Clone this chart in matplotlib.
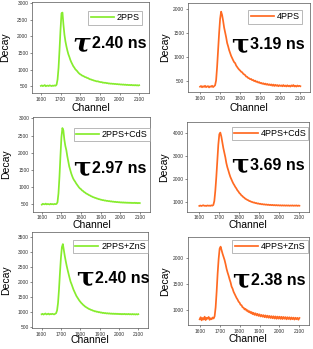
import numpy as np
import matplotlib
matplotlib.use("Agg")
import matplotlib.pyplot as plt

plt.rcParams['font.family'] = ['Liberation Sans', 'DejaVu Sans']

START, STEP = 1600, 5

labels = ["2PPS", "4PPS", "2PPS+CdS", "4PPS+CdS", "2PPS+ZnS", "4PPS+ZnS"]
lifetimes = ["2.40 ns", "3.19 ns", "2.97 ns", "3.69 ns", "2.40 ns", "2.38 ns"]

decay_2pps = [505,520,498,512,530,495,508,515,500,522,510,498,515,505,520,510,
    540,700,1050,1600,2200,2700,2720,2350,2050,1850,1700,1570,1460,1380,1290,1220,
    1160,1100,1060,1010,980,950,910,880,
    855,840,815,805,790,770,765,745,740,720,705,700,685,680,665,660,650,640,645,630,
    625,615,620,600,605,595,600,585,590,575,580,570,575,565,570,560,565,555,560,550,
    555,545,550,540,548,535,545,530,540,528,535,525,538,522,530,520,532,518,528,515,525]

decay_4pps = [390,405,378,400,385,410,380,395,402,375,398,388,410,382,400,
    420,520,800,1150,1500,1800,1950,1880,1760,1620,1520,1420,1300,1230,1150,1090,
    1030,985,940,900,880,830,800,770,745,
    725,700,690,660,645,630,600,595,570,565,545,550,525,530,505,515,490,498,475,485,
    462,470,450,462,440,455,432,448,425,440,420,438,410,435,405,430,408,425,400,422,
    405,418,398,425,400,415,395,420,398,412,392,418,400,425,395,410,392,415,398,410,400]

decay_2pps_cds = [490,515,505,500,520,498,510,505,495,515,502,508,498,512,505,510,
    560,820,1300,1900,2450,2720,2650,2380,2200,2080,1900,1750,1600,1500,1400,1320,
    1250,1200,1160,1110,1070,1030,990,960,
    940,905,890,860,845,820,805,790,770,760,740,730,712,705,690,685,670,665,650,648,
    635,632,620,622,608,612,598,602,590,595,582,588,575,580,568,575,562,570,558,565,
    552,560,548,558,545,555,542,552,540,550,538,548,535,545,535,548,532,545,530,542,535]

decay_4pps_cds = [840,860,835,855,870,845,850,838,862,848,855,842,868,850,
    880,1050,1500,2100,2800,3500,3950,4020,3850,3600,3350,3150,2950,2700,2520,2380,
    2230,2100,2000,1900,1810,1740,1660,1600,1520,1470,
    1400,1360,1300,1270,1220,1195,1150,1130,1100,1085,1050,1045,1015,1010,985,990,960,968,940,950,
    925,935,910,922,900,912,890,905,882,898,875,890,870,888,865,882,860,880,858,875,
    855,872,850,870,852,868,848,866,850,865,845,862,848,866,845,860,848,865,842,858,850]

decay_2pps_zns = [925,940,915,935,950,920,930,945,918,938,925,942,930,920,940,
    960,1050,1300,1750,2300,2800,3150,3250,3050,2850,2680,2520,2380,2250,2120,2000,
    1920,1830,1740,1670,1600,1530,1480,1430,1380,
    1340,1300,1270,1235,1210,1180,1160,1140,1120,1100,1090,1070,1065,1045,1040,1020,1025,1005,1010,990,
    998,978,985,965,975,958,968,950,962,945,958,940,952,935,950,932,948,930,945,928,
    942,925,940,922,938,925,940,920,935,922,938,920,932,918,935,920,930,915,932,918,928]

decay_4pps_zns = [820,860,800,845,815,870,805,850,830,865,810,840,820,855,835,
    880,1050,1350,1700,1980,2180,2220,2150,2080,2020,1960,1880,1790,1720,1660,1590,
    1530,1450,1410,1350,1310,1270,1230,1200,1160,
    1140,1100,1090,1050,1045,1010,1020,985,995,960,975,940,960,920,945,905,935,895,925,885,
    915,875,905,870,900,860,895,855,890,850,885,845,880,840,878,835,875,830,872,832,
    870,828,868,825,865,830,862,820,860,825,858,818,855,822,852,815,850,820,848,812,845]

series = [decay_2pps, decay_4pps, decay_2pps_cds, decay_4pps_cds, decay_2pps_zns, decay_4pps_zns]
yticks_list = [[500,1000,1500,2000,2500,3000], [500,1000,1500,2000],
               [500,1000,1500,2000,2500,3000], [1000,2000,3000,4000],
               [500,1000,1500,2000,2500,3000,3500], [1000,1500,2000]]
xticks = [1600,1700,1800,1900,2000,2100]

GREEN = '#86EC2E'
ORANGE = '#FF6A22'
colors = [GREEN, ORANGE, GREEN, ORANGE, GREEN, ORANGE]

W, H = 313, 349
# pixel boxes: left, right, top, bottom
boxes = [(32, 149, 2, 93), (188, 310, 3, 92),
         (33, 150, 116.7, 211.7), (187.3, 309, 122, 211.7),
         (32.3, 148, 232, 328), (187.7, 309, 237.3, 325)]
xlims = [(1555, 2150), (1540, 2148), (1555, 2152), (1540, 2148), (1552, 2150), (1540, 2148)]
ylims = [(290, 3040), (280, 2130), (285, 3050), (590, 4480), (470, 3650), (710, 2400)]
leg_anchor = [(0.94, 0.90), (0.934, 0.92), (1.0, 0.884), (0.995, 0.948), (1.0, 0.917), (0.99, 0.97)]
text_y = [0.54, 0.53, 0.457, 0.52, 0.518, 0.513]
txt_x = [0.51, 0.51, 0.506, 0.515, 0.54, 0.525]
ylab_x = [-0.23, -0.19, -0.23, -0.19, -0.23, -0.19]
xlab_y = [-0.17, -0.18, -0.135, -0.15, -0.13, -0.165]

fig = plt.figure(figsize=(W/100, H/100), dpi=100)
for i in range(6):
    l, r, t, b = boxes[i]
    ax = fig.add_axes([l/W, 1-b/H, (r-l)/W, (b-t)/H])
    vals = series[i]
    ch = np.arange(START, START + STEP*len(vals), STEP)[:len(vals)]
    ax.plot(ch, vals, color=colors[i], lw=1.25, label=labels[i])
    ax.set_xlim(*xlims[i])
    ax.set_ylim(*ylims[i])
    ax.set_xticks(xticks)
    ax.set_yticks(yticks_list[i])
    ax.tick_params(labelsize=3.5, length=1.5, width=0.4, pad=1.2, colors='#333333')
    for s in ax.spines.values():
        s.set_linewidth(0.5)
        s.set_color('#555555')
    ax.set_ylabel('Decay', fontsize=7.5, va='center')
    ax.yaxis.set_label_coords(ylab_x[i], 0.5)
    ax.set_xlabel('Channel', fontsize=7.5, va='center')
    ax.xaxis.set_label_coords(0.5, xlab_y[i])
    leg = ax.legend(loc='upper right', bbox_to_anchor=leg_anchor[i], fontsize=6.5,
                    frameon=True, fancybox=False, borderpad=0.25, handlelength=2.6,
                    handletextpad=0.3, borderaxespad=0.0)
    leg.get_frame().set_edgecolor('#999999')
    leg.get_frame().set_linewidth(0.6)
    ax.text(txt_x[i] - 0.01, text_y[i], 'τ', transform=ax.transAxes, fontsize=19,
            family='DejaVu Serif', fontweight='bold',
            style='italic' if i == 0 else 'normal', ha='right', va='center')
    ax.text(txt_x[i], text_y[i], lifetimes[i], transform=ax.transAxes, fontsize=11.5,
            fontweight='bold', ha='left', va='center')

fig.savefig('out.png', dpi=100)
